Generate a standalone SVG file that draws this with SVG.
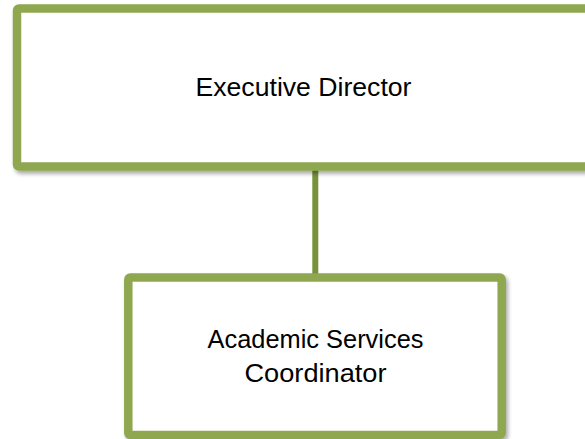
<svg xmlns="http://www.w3.org/2000/svg" width="585" height="439" viewBox="0 0 585 439">
<defs>
<filter id="sh" x="-5%" y="-5%" width="115%" height="120%">
<feGaussianBlur in="SourceAlpha" stdDeviation="2"/>
<feOffset dx="2" dy="3"/>
<feComponentTransfer><feFuncA type="linear" slope="0.35"/></feComponentTransfer>
<feMerge><feMergeNode/><feMergeNode in="SourceGraphic"/></feMerge>
</filter>
</defs>
<style>
.box{fill:#ffffff;stroke:#8FA850;stroke-width:8.5;}
.lbl{font-family:"Liberation Sans",Arial,sans-serif;font-size:25px;fill:#000;text-anchor:middle;}
.con{stroke:#77923C;stroke-width:6;fill:none;}
</style>
<rect width="585" height="439" fill="#ffffff"/>
<g id="connectors">
<line class="con" x1="315.3" y1="168" x2="315.3" y2="276"/>
</g>
<g id="executive-director">
<rect class="box" x="17" y="8.5" width="600" height="158" rx="2" filter="url(#sh)"/>
<text class="lbl" x="303.5" y="96" textLength="216" lengthAdjust="spacingAndGlyphs">Executive Director</text>
</g>
<g id="academic-services-coordinator">
<rect class="box" x="128.3" y="277.5" width="373.4" height="157.5" rx="2" filter="url(#sh)"/>
<text class="lbl" x="315.5" y="348" textLength="216" lengthAdjust="spacingAndGlyphs">Academic Services</text>
<text class="lbl" x="315.5" y="382" textLength="142" lengthAdjust="spacingAndGlyphs">Coordinator</text>
</g>
</svg>
